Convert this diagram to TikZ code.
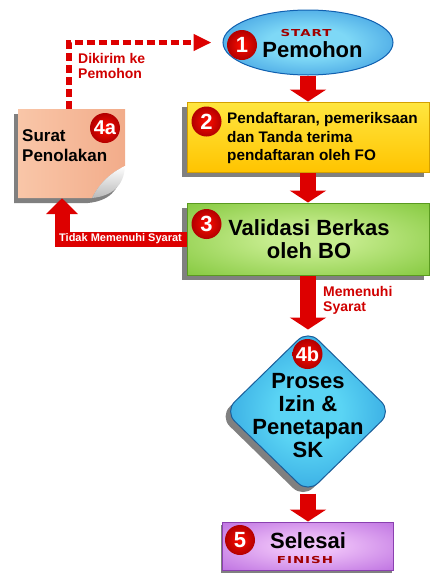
\documentclass[tikz,border=0pt]{standalone}
\usepackage{fontspec}
\setmainfont{Liberation Sans}
\newfontfamily\widefont{DejaVu Sans}[FakeStretch=1.4,LetterSpace=10]
\usetikzlibrary{shapes.geometric,arrows.meta,shadows}

\definecolor{arrowred}{HTML}{DD0000}
\definecolor{tagred}{HTML}{A00000}
\definecolor{labelred}{HTML}{D00000}
\definecolor{shadowgray}{HTML}{808080}
\definecolor{blueinner}{HTML}{7ED8F6}
\definecolor{blueouter}{HTML}{2080D6}
\definecolor{blueedge}{HTML}{1060B0}
\definecolor{yellowtop}{HTML}{FFE640}
\definecolor{yellowbot}{HTML}{FFC400}
\definecolor{yellowedge}{HTML}{D4A000}
\definecolor{greeninner}{HTML}{C6EC8E}
\definecolor{greenouter}{HTML}{7CC434}
\definecolor{greenedge}{HTML}{5A9A20}
\definecolor{diainner}{HTML}{5AD4F4}
\definecolor{diaouter}{HTML}{1E8CD6}
\definecolor{diaedge}{HTML}{1A5E9A}
\definecolor{purpleinner}{HTML}{EEC0F8}
\definecolor{purpleouter}{HTML}{B868DE}
\definecolor{purpleedge}{HTML}{8A40B0}
\definecolor{peachlight}{HTML}{F9C6A8}
\definecolor{peachdark}{HTML}{F2AC8A}

\pgfdeclareradialshading{ellipseshade}{\pgfpoint{0bp}{0bp}}{color(0bp)=(blueinner); color(12bp)=(blueinner); color(42bp)=(blueouter); color(50bp)=(blueouter)}
\pgfdeclareradialshading{diashade}{\pgfpoint{0bp}{0bp}}{color(0bp)=(diainner); color(10bp)=(diainner); color(38bp)=(diaouter); color(50bp)=(diaouter)}
\pgfdeclareradialshading{greenshade}{\pgfpoint{0bp}{0bp}}{color(0bp)=(greeninner); color(8bp)=(greeninner); color(40bp)=(greenouter); color(50bp)=(greenouter)}
\pgfdeclareradialshading{purpleshade}{\pgfpoint{0bp}{0bp}}{color(0bp)=(purpleinner); color(8bp)=(purpleinner); color(40bp)=(purpleouter); color(50bp)=(purpleouter)}

\tikzset{
  boxshadow/.style={drop shadow={shadow xshift=-5pt,shadow yshift=-5pt,fill=shadowgray,opacity=1}},
  stepbox/.style={rectangle,minimum width=242pt,minimum height=70pt,inner sep=0pt,line width=1pt,boxshadow},
  bigarrow/.style={draw=arrowred,line width=16pt,-{Triangle[width=36pt,length=12pt]}},
  rejectarrow/.style={draw=arrowred,line width=15pt,line join=miter,-{Triangle[width=31pt,length=16pt]}},
  sendarrow/.style={draw=arrowred,line width=5.5pt,dash pattern=on 8pt off 4pt,-{Triangle[width=16pt,length=18pt]}},
  numdot/.style={circle,inner color=red!90!orange,outer color=red!70!black,text=white,minimum size=30pt,inner sep=0pt,font=\bfseries\fontsize{22}{22}\selectfont},
  bigtext/.style={inner sep=0pt,font=\bfseries\fontsize{22}{23}\selectfont},
  midtext/.style={inner sep=0pt,font=\bfseries\fontsize{15.3}{18.5}\selectfont},
  notetext/.style={inner sep=0pt,font=\bfseries\fontsize{17}{19.5}\selectfont},
  redlabel/.style={inner sep=0pt,text=labelred,font=\bfseries\fontsize{14}{14.5}\selectfont},
  tagtext/.style={inner sep=0pt,text=tagred,font=\widefont\bfseries\fontsize{9.6}{10}\selectfont},
  notebox/.style={rectangle,minimum width=107pt,minimum height=89pt,inner sep=0pt}
}

\begin{document}
\begin{tikzpicture}[x=1pt,y=-1pt]
\useasboundingbox (0,0) rectangle (444,587);

% note with curled corner
\fill[shadowgray] (14,114) -- (121,114) -- (121,171) .. controls (120,191) and (108,201) .. (88,203) -- (14,203) -- cycle;
\shade[left color=peachlight,right color=peachdark] (18,109) -- (125,109) -- (125,166) .. controls (112,172) and (100,182) .. (92,198) -- (18,198) -- cycle;
\shade[top color=white,bottom color=gray!55] (125,166) .. controls (112,172) and (100,182) .. (92,198) .. controls (112,196) and (124,186) .. (125,166) -- cycle;
\node[notebox] (note) at (71.5,153.5) {};

% steps
\node[ellipse,minimum width=170pt,minimum height=65pt,inner sep=0pt,line width=1pt,draw=blueedge,shading=ellipseshade] (start) at (308,42.5) {};
\node[stepbox,draw=yellowedge,top color=yellowtop,bottom color=yellowbot] (reg) at (308,137) {};
\node[stepbox,minimum height=72pt,draw=greenedge,shading=greenshade] (valid) at (308,239) {};
\node[diamond,minimum width=167pt,minimum height=163pt,inner sep=0pt,rounded corners=14pt,line width=1pt,draw=diaedge,shading=diashade,boxshadow] (proc) at (308,411.5) {};
\node[rectangle,minimum width=171pt,minimum height=48pt,inner sep=0pt,line width=1pt,draw=purpleedge,shading=purpleshade,drop shadow={shadow xshift=-2pt,shadow yshift=-3pt,fill=shadowgray,opacity=1}] (finish) at (308,546) {};

% connectors
\draw[bigarrow] (start.south) -- (reg.north);
\draw[bigarrow] (reg.south) -- (valid.north);
\draw[bigarrow] (valid.south) -- (proc.north);
\draw[bigarrow] (proc.south) -- (finish.north);
\coordinate (rejbend) at (62,239);
\draw[rejectarrow] (valid.west) -- node[pos=0.53,inner sep=0pt,text=white,font=\bfseries\fontsize{11}{12}\selectfont] (rejlabel) {Tidak Memenuhi Syarat} (rejbend) -- (rejbend |- note.south);
\coordinate (sendbend) at (69,42.5);
\draw[sendarrow] (sendbend |- note.north) -- (sendbend) -- ([xshift=-11pt]start.west);

% texts
\node[tagtext,anchor=base] (starttag) at (306,36) {START};
\node[bigtext,anchor=base] (pemohon) at (312.5,57) {Pemohon};
\node[midtext,align=left,anchor=west] (regtext) at (227,138.5) {Pendaftaran, pemeriksaan\\dan Tanda terima\\pendaftaran oleh FO};
\node[bigtext,align=center] (validtext) at (309,239) {Validasi Berkas\\oleh BO};
\node[bigtext,align=center] (proctext) at (308,416) {Proses\\Izin \&\\Penetapan\\SK};
\node[bigtext,anchor=base] (selesai) at (308,548) {Selesai};
\node[tagtext,anchor=base] (finishtag) at (305,563) {FINISH};
\node[notetext,align=left,anchor=west] (notelabel) at (22,145.5) {Surat\\Penolakan};
\node[redlabel,align=left,anchor=west] (sentlabel) at (78,66) {Dikirim ke\\Pemohon};
\node[redlabel,align=left,anchor=west] (oklabel) at (323,300.6) {Memenuhi\\Syarat};

% step numbers
\node[numdot] (n1) at (242,45) {1};
\node[numdot] (n2) at (206.5,121.5) {2};
\node[numdot] (n3) at (206.5,224) {3};
\node[numdot,font=\bfseries\fontsize{20}{20}\selectfont] (n4a) at (105,128) {4a};
\node[numdot,font=\bfseries\fontsize{20}{20}\selectfont] (n4b) at (307.5,354) {4b};
\node[numdot] (n5) at (240,540) {5};
\end{tikzpicture}
\end{document}
